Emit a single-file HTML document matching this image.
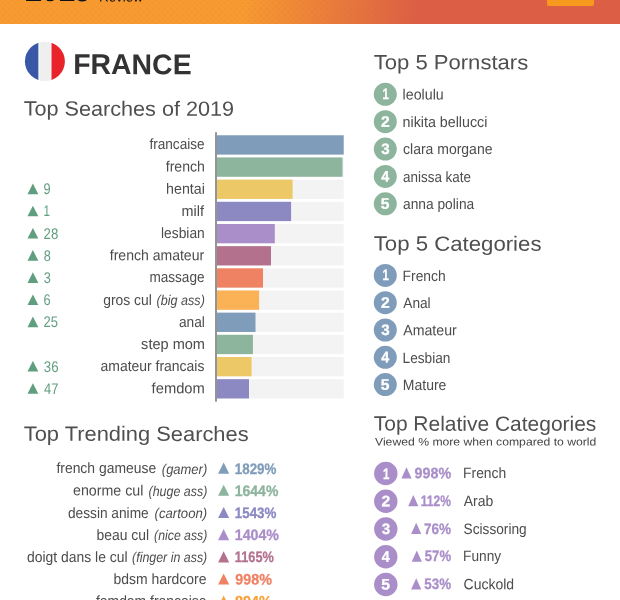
<!DOCTYPE html><html lang="fr"><head><meta charset="utf-8"><title>France - Top Searches of 2019</title><style>
*{margin:0;padding:0;box-sizing:border-box}
html,body{width:620px;height:600px;overflow:hidden;background:#fff}
body{position:relative;font-family:"Liberation Sans", sans-serif;}
.t{position:absolute;white-space:nowrap;line-height:1;transform-origin:0 50%}
.t i{font-style:italic}
.hdr{position:absolute;left:0;top:0;width:620px;height:23.7px;background:radial-gradient(circle,rgba(215,95,40,.22) 0,rgba(215,95,40,.22) .4px,rgba(215,95,40,0) 1px) 0 0/6px 6px,radial-gradient(circle,rgba(215,95,40,.22) 0,rgba(215,95,40,.22) .4px,rgba(215,95,40,0) 1px) 3px 3px/6px 6px,linear-gradient(97deg,#f79b31 0%,#f79b31 39%,#dc5f45 67%,#dc5f45 100%);overflow:hidden}
.btn{position:absolute;left:547.2px;top:-4px;width:47px;height:9.8px;background:#f7981f;border-radius:2px}
.chart{position:absolute;left:0;top:0;display:block}
</style></head><body>
<div class="hdr"><div class="btn"></div></div>
<div class="t" style="left:25px;top:-25px;font-size:31px;font-weight:700;color:#111;letter-spacing:-0.8px;transform:translateY(0.1px) rotate(0.03deg)">2019</div>
<div class="t" style="left:98.5px;top:-10px;font-size:13.4px;font-weight:400;color:#111;transform:translateY(0.6px) rotate(0.03deg);">Review</div>
<svg class="chart" width="620" height="600" viewBox="0 0 620 600"><defs><clipPath id="fc"><ellipse cx="44.9" cy="61.4" rx="20" ry="19.7"/></clipPath></defs><g clip-path="url(#fc)"><rect x="24" y="40" width="14.6" height="44" fill="#3857a6"/><rect x="38.6" y="40" width="12.9" height="44" fill="#fbfbfb"/><rect x="39.4" y="40" width="11.3" height="44" fill="#efefef"/><rect x="51.5" y="40" width="15" height="44" fill="#e8232a"/></g><rect x="216.9" y="135.30" width="126.8" height="19.3" fill="#f3f3f3"/><rect x="216.9" y="135.30" width="126.80" height="19.3" fill="#7f9cba"/><rect x="216.9" y="157.47" width="126.8" height="19.3" fill="#f3f3f3"/><rect x="216.9" y="157.47" width="125.60" height="19.3" fill="#8db49d"/><rect x="216.9" y="179.64" width="126.8" height="19.3" fill="#f3f3f3"/><rect x="216.9" y="179.64" width="75.70" height="19.3" fill="#ecc867"/><polygon points="32.90,183.60 38.30,194.20 27.50,194.20" fill="#5f9e7f"/><rect x="216.9" y="201.81" width="126.8" height="19.3" fill="#f3f3f3"/><rect x="216.9" y="201.81" width="74.20" height="19.3" fill="#8b88c2"/><polygon points="32.90,205.77 38.30,216.37 27.50,216.37" fill="#5f9e7f"/><rect x="216.9" y="223.98" width="126.8" height="19.3" fill="#f3f3f3"/><rect x="216.9" y="223.98" width="57.90" height="19.3" fill="#a98ec9"/><polygon points="32.90,227.94 38.30,238.54 27.50,238.54" fill="#5f9e7f"/><rect x="216.9" y="246.15" width="126.8" height="19.3" fill="#f3f3f3"/><rect x="216.9" y="246.15" width="54.10" height="19.3" fill="#b3718e"/><polygon points="32.90,250.11 38.30,260.71 27.50,260.71" fill="#5f9e7f"/><rect x="216.9" y="268.32" width="126.8" height="19.3" fill="#f3f3f3"/><rect x="216.9" y="268.32" width="46.10" height="19.3" fill="#f08264"/><polygon points="32.90,272.28 38.30,282.88 27.50,282.88" fill="#5f9e7f"/><rect x="216.9" y="290.49" width="126.8" height="19.3" fill="#f3f3f3"/><rect x="216.9" y="290.49" width="42.20" height="19.3" fill="#fbb155"/><polygon points="32.90,294.45 38.30,305.05 27.50,305.05" fill="#5f9e7f"/><rect x="216.9" y="312.66" width="126.8" height="19.3" fill="#f3f3f3"/><rect x="216.9" y="312.66" width="38.60" height="19.3" fill="#7f9cba"/><polygon points="32.90,316.62 38.30,327.22 27.50,327.22" fill="#5f9e7f"/><rect x="216.9" y="334.83" width="126.8" height="19.3" fill="#f3f3f3"/><rect x="216.9" y="334.83" width="36.00" height="19.3" fill="#8db49d"/><rect x="216.9" y="357.00" width="126.8" height="19.3" fill="#f3f3f3"/><rect x="216.9" y="357.00" width="34.70" height="19.3" fill="#ecc867"/><polygon points="32.90,360.96 38.30,371.56 27.50,371.56" fill="#5f9e7f"/><rect x="216.9" y="379.17" width="126.8" height="19.3" fill="#f3f3f3"/><rect x="216.9" y="379.17" width="32.10" height="19.3" fill="#8b88c2"/><polygon points="32.90,383.13 38.30,393.73 27.50,393.73" fill="#5f9e7f"/><polygon points="223.65,462.60 229.20,473.70 218.10,473.70" fill="#7f9cba"/><polygon points="223.65,484.77 229.20,495.87 218.10,495.87" fill="#8db49d"/><polygon points="223.65,506.94 229.20,518.04 218.10,518.04" fill="#8b88c2"/><polygon points="223.65,529.11 229.20,540.21 218.10,540.21" fill="#a98ec9"/><polygon points="223.65,551.28 229.20,562.38 218.10,562.38" fill="#b3718e"/><polygon points="223.65,573.45 229.20,584.55 218.10,584.55" fill="#f08264"/><polygon points="223.65,595.62 229.20,606.72 218.10,606.72" fill="#f9a23a"/><circle cx="385.30" cy="94.30" r="11.50" fill="#8db49d"/><circle cx="385.30" cy="121.67" r="11.50" fill="#8db49d"/><circle cx="385.30" cy="149.04" r="11.50" fill="#8db49d"/><circle cx="385.30" cy="176.41" r="11.50" fill="#8db49d"/><circle cx="385.30" cy="203.78" r="11.50" fill="#8db49d"/><circle cx="385.30" cy="275.40" r="11.50" fill="#7f9cba"/><circle cx="385.30" cy="302.70" r="11.50" fill="#7f9cba"/><circle cx="385.30" cy="330.00" r="11.50" fill="#7f9cba"/><circle cx="385.30" cy="357.30" r="11.50" fill="#7f9cba"/><circle cx="385.30" cy="384.60" r="11.50" fill="#7f9cba"/><circle cx="385.80" cy="473.50" r="11.70" fill="#a98ec9"/><polygon points="406.50,467.20 411.60,478.50 401.40,478.50" fill="#a98ec9"/><circle cx="385.80" cy="501.25" r="11.70" fill="#a98ec9"/><polygon points="413.30,494.95 418.40,506.25 408.20,506.25" fill="#a98ec9"/><circle cx="385.80" cy="529.00" r="11.70" fill="#a98ec9"/><polygon points="416.20,522.70 421.30,534.00 411.10,534.00" fill="#a98ec9"/><circle cx="385.80" cy="556.75" r="11.70" fill="#a98ec9"/><polygon points="416.80,550.45 421.90,561.75 411.70,561.75" fill="#a98ec9"/><circle cx="385.80" cy="584.50" r="11.70" fill="#a98ec9"/><polygon points="416.20,578.20 421.30,589.50 411.10,589.50" fill="#a98ec9"/><rect x="215.1" y="132.2" width="1.8" height="269.4" fill="#8a8a8a"/></svg>
<div class="t" id="t0" style="left:23px;top:98px;font-size:20.6px;color:#4f4f4f;transform:translate(0.73px,0.60px) rotate(0.03deg) scaleX(1.0497);">Top Searches of 2019</div>
<div class="t" id="t1" style="left:23px;top:423px;font-size:20.6px;color:#4f4f4f;transform:translate(0.73px,0.80px) rotate(0.03deg) scaleX(1.0619);">Top Trending Searches</div>
<div class="t" id="t2" style="left:373px;top:52px;font-size:20.6px;color:#4f4f4f;transform:translate(0.73px,0.30px) rotate(0.03deg) scaleX(1.0709);">Top 5 Pornstars</div>
<div class="t" id="t3" style="left:373px;top:233px;font-size:20.6px;color:#4f4f4f;transform:translate(0.73px,0.60px) rotate(0.03deg) scaleX(1.0775);">Top 5 Categories</div>
<div class="t" id="t4" style="left:373px;top:413px;font-size:20.6px;color:#4f4f4f;transform:translate(0.74px,0.60px) rotate(0.03deg) scaleX(1.0181);">Top Relative Categories</div>
<div class="t" id="t5" style="left:375px;top:436px;font-size:11px;color:#444;transform:translate(0.00px,0.40px) rotate(0.03deg) scaleX(1.1083);">Viewed % more when compared to world</div>
<div class="t" id="t6" style="left:73px;top:50px;font-size:28.6px;font-weight:700;color:#333;transform:translate(0.26px,0.10px) rotate(0.03deg) scaleX(0.9931);">FRANCE</div>
<div class="t" id="t7" style="left:149px;top:136px;font-size:15px;color:#4c4c4c;transform:translate(0.41px,0.40px) rotate(0.03deg) scaleX(0.9075);">francaise</div>
<div class="t" id="t8" style="left:165px;top:158px;font-size:15px;color:#4c4c4c;transform:translate(0.77px,0.57px) rotate(0.03deg) scaleX(0.9383);">french</div>
<div class="t" id="t9" style="left:166px;top:180px;font-size:15px;color:#4c4c4c;transform:translate(0.05px,0.74px) rotate(0.03deg) scaleX(0.9487);">hentai</div>
<div class="t" id="t10" style="left:43px;top:181px;font-size:15.4px;color:#5f9e7f;transform:translate(0.62px,0.20px) rotate(0.03deg) scaleX(0.8276);">9</div>
<div class="t" id="t11" style="left:181px;top:202px;font-size:15px;color:#4c4c4c;transform:translate(0.49px,0.91px) rotate(0.03deg) scaleX(0.9600);">milf</div>
<div class="t" id="t12" style="left:43px;top:203px;font-size:15.4px;color:#5f9e7f;transform:translate(0.55px,0.37px) rotate(0.03deg) scaleX(0.7500);">1</div>
<div class="t" id="t13" style="left:161px;top:225px;font-size:15px;color:#4c4c4c;transform:translate(0.03px,0.08px) rotate(0.03deg) scaleX(0.9202);">lesbian</div>
<div class="t" id="t14" style="left:43px;top:225px;font-size:15.4px;color:#5f9e7f;transform:translate(0.60px,0.54px) rotate(0.03deg) scaleX(0.8571);">28</div>
<div class="t" id="t15" style="left:109px;top:247px;font-size:15px;color:#4c4c4c;transform:translate(0.77px,0.25px) rotate(0.03deg) scaleX(0.9353);">french amateur</div>
<div class="t" id="t16" style="left:43px;top:247px;font-size:15.4px;color:#5f9e7f;transform:translate(0.87px,0.71px) rotate(0.03deg) scaleX(0.8276);">8</div>
<div class="t" id="t17" style="left:149px;top:269px;font-size:15px;color:#4c4c4c;transform:translate(0.40px,0.42px) rotate(0.03deg) scaleX(0.9055);">massage</div>
<div class="t" id="t18" style="left:43px;top:269px;font-size:15.4px;color:#5f9e7f;transform:translate(0.87px,0.88px) rotate(0.03deg) scaleX(0.8276);">3</div>
<div class="t" id="t19" style="left:103px;top:291px;font-size:15px;color:#4c4c4c;transform:translate(0.19px,0.59px) rotate(0.03deg) scaleX(0.9255);">gros cul</div>
<div class="t" id="t20" style="left:156px;top:293px;font-size:14px;color:#4c4c4c;transform:translate(0.56px,0.09px) rotate(0.03deg) scaleX(0.8995);"><i>(big ass)</i></div>
<div class="t" id="t21" style="left:43px;top:292px;font-size:15.4px;color:#5f9e7f;transform:translate(0.62px,0.05px) rotate(0.03deg) scaleX(0.8276);">6</div>
<div class="t" id="t22" style="left:178px;top:313px;font-size:15px;color:#4c4c4c;transform:translate(0.96px,0.76px) rotate(0.03deg) scaleX(0.9140);">anal</div>
<div class="t" id="t23" style="left:43px;top:314px;font-size:15.4px;color:#5f9e7f;transform:translate(0.61px,0.22px) rotate(0.03deg) scaleX(0.8416);">25</div>
<div class="t" id="t24" style="left:141px;top:335px;font-size:15px;color:#4c4c4c;transform:translate(0.11px,0.93px) rotate(0.03deg) scaleX(0.9698);">step mom</div>
<div class="t" id="t25" style="left:100px;top:358px;font-size:15px;color:#4c4c4c;transform:translate(0.53px,0.10px) rotate(0.03deg) scaleX(0.9300);">amateur francais</div>
<div class="t" id="t26" style="left:43px;top:358px;font-size:15.4px;color:#5f9e7f;transform:translate(0.85px,0.56px) rotate(0.03deg) scaleX(0.8571);">36</div>
<div class="t" id="t27" style="left:151px;top:380px;font-size:15px;color:#4c4c4c;transform:translate(0.60px,0.27px) rotate(0.03deg) scaleX(0.9821);">femdom</div>
<div class="t" id="t28" style="left:44px;top:380px;font-size:15.4px;color:#5f9e7f;transform:translate(0.07px,0.73px) rotate(0.03deg) scaleX(0.8438);">47</div>
<div class="t" id="t29" style="left:56px;top:460px;font-size:15px;color:#4c4c4c;transform:translate(0.40px,0.20px) rotate(0.03deg) scaleX(0.9271);">french gameuse</div>
<div class="t" id="t30" style="left:161px;top:461px;font-size:14px;color:#4c4c4c;transform:translate(0.81px,0.70px) rotate(0.03deg) scaleX(0.9263);"><i>(gamer)</i></div>
<div class="t" id="t31" style="left:234px;top:460px;font-size:15.2px;font-weight:700;-webkit-text-stroke:0.3px;color:#7f9cba;transform:translate(0.84px,0.56px) rotate(0.03deg) scaleX(0.8789);">1829%</div>
<div class="t" id="t32" style="left:73px;top:482px;font-size:15px;color:#4c4c4c;transform:translate(0.03px,0.37px) rotate(0.03deg) scaleX(0.9485);">enorme cul</div>
<div class="t" id="t33" style="left:148px;top:483px;font-size:14px;color:#4c4c4c;transform:translate(0.56px,0.87px) rotate(0.03deg) scaleX(0.8880);"><i>(huge ass)</i></div>
<div class="t" id="t34" style="left:234px;top:482px;font-size:15.2px;font-weight:700;-webkit-text-stroke:0.3px;color:#8db49d;transform:translate(0.81px,0.73px) rotate(0.03deg) scaleX(0.9200);">1644%</div>
<div class="t" id="t35" style="left:67px;top:504px;font-size:15px;color:#4c4c4c;transform:translate(0.91px,0.54px) rotate(0.03deg) scaleX(0.9144);">dessin anime</div>
<div class="t" id="t36" style="left:154px;top:506px;font-size:14px;color:#4c4c4c;transform:translate(0.58px,0.04px) rotate(0.03deg) scaleX(0.9388);"><i>(cartoon)</i></div>
<div class="t" id="t37" style="left:234px;top:504px;font-size:15.2px;font-weight:700;-webkit-text-stroke:0.3px;color:#8b88c2;transform:translate(0.84px,0.90px) rotate(0.03deg) scaleX(0.8789);">1543%</div>
<div class="t" id="t38" style="left:96px;top:526px;font-size:15px;color:#4c4c4c;transform:translate(0.58px,0.71px) rotate(0.03deg) scaleX(0.9270);">beau cul</div>
<div class="t" id="t39" style="left:154px;top:528px;font-size:14px;color:#4c4c4c;transform:translate(0.12px,0.21px) rotate(0.03deg) scaleX(0.8760);"><i>(nice ass)</i></div>
<div class="t" id="t40" style="left:234px;top:527px;font-size:15.2px;font-weight:700;-webkit-text-stroke:0.3px;color:#a98ec9;transform:translate(0.80px,0.07px) rotate(0.03deg) scaleX(0.9341);">1404%</div>
<div class="t" id="t41" style="left:27px;top:548px;font-size:15px;color:#4c4c4c;transform:translate(0.04px,0.88px) rotate(0.03deg) scaleX(0.9274);">doigt dans le cul</div>
<div class="t" id="t42" style="left:132px;top:550px;font-size:14px;color:#4c4c4c;transform:translate(0.06px,0.38px) rotate(0.03deg) scaleX(0.8862);"><i>(finger in ass)</i></div>
<div class="t" id="t43" style="left:234px;top:549px;font-size:15.2px;font-weight:700;-webkit-text-stroke:0.3px;color:#b3718e;transform:translate(0.87px,0.24px) rotate(0.03deg) scaleX(0.8374);">1165%</div>
<div class="t" id="t44" style="left:113px;top:571px;font-size:15px;color:#4c4c4c;transform:translate(0.42px,0.05px) rotate(0.03deg) scaleX(0.9293);">bdsm hardcore</div>
<div class="t" id="t45" style="left:235px;top:571px;font-size:15.2px;font-weight:700;-webkit-text-stroke:0.3px;color:#f08264;transform:translate(0.26px,0.41px) rotate(0.03deg) scaleX(0.9425);">998%</div>
<div class="t" id="t46" style="left:95px;top:593px;font-size:15px;color:#4c4c4c;transform:translate(0.96px,0.22px) rotate(0.03deg) scaleX(0.9269);">femdom francaise</div>
<div class="t" id="t47" style="left:235px;top:593px;font-size:15.2px;font-weight:700;-webkit-text-stroke:0.3px;color:#f9a23a;transform:translate(0.03px,0.58px) rotate(0.03deg) scaleX(0.9467);">894%</div>
<div class="t" id="t48" style="left:382px;top:86px;font-size:15.2px;font-weight:700;-webkit-text-stroke:0.3px;color:#fff;transform:translate(0.51px,0.36px) rotate(0.03deg) scaleX(0.7500);">1</div>
<div class="t" id="t49" style="left:402px;top:86px;font-size:15px;color:#4c4c4c;transform:translate(0.55px,0.60px) rotate(0.03deg) scaleX(0.9491);">leolulu</div>
<div class="t" id="t50" style="left:380px;top:113px;font-size:15.2px;font-weight:700;-webkit-text-stroke:0.3px;color:#fff;transform:translate(0.98px,0.73px) rotate(0.03deg) scaleX(1.0343);">2</div>
<div class="t" id="t51" style="left:402px;top:113px;font-size:15px;color:#4c4c4c;transform:translate(0.55px,0.97px) rotate(0.03deg) scaleX(0.9507);">nikita bellucci</div>
<div class="t" id="t52" style="left:381px;top:141px;font-size:15.2px;font-weight:700;-webkit-text-stroke:0.3px;color:#fff;transform:translate(0.25px,0.10px) rotate(0.03deg) scaleX(1.0000);">3</div>
<div class="t" id="t53" style="left:403px;top:141px;font-size:15px;color:#4c4c4c;transform:translate(0.03px,0.34px) rotate(0.03deg) scaleX(0.9325);">clara morgane</div>
<div class="t" id="t54" style="left:381px;top:168px;font-size:15.2px;font-weight:700;-webkit-text-stroke:0.3px;color:#fff;transform:translate(0.25px,0.47px) rotate(0.03deg) scaleX(0.9412);">4</div>
<div class="t" id="t55" style="left:403px;top:168px;font-size:15px;color:#4c4c4c;transform:translate(0.05px,0.71px) rotate(0.03deg) scaleX(0.8950);">anissa kate</div>
<div class="t" id="t56" style="left:380px;top:195px;font-size:15.2px;font-weight:700;-webkit-text-stroke:0.3px;color:#fff;transform:translate(0.86px,0.84px) rotate(0.03deg) scaleX(1.0323);">5</div>
<div class="t" id="t57" style="left:403px;top:196px;font-size:15px;color:#4c4c4c;transform:translate(0.04px,0.08px) rotate(0.03deg) scaleX(0.9172);">anna polina</div>
<div class="t" id="t58" style="left:382px;top:267px;font-size:15.2px;font-weight:700;-webkit-text-stroke:0.3px;color:#fff;transform:translate(0.51px,0.46px) rotate(0.03deg) scaleX(0.7500);">1</div>
<div class="t" id="t59" style="left:402px;top:267px;font-size:15px;color:#4c4c4c;transform:translate(0.59px,0.70px) rotate(0.03deg) scaleX(0.9225);">French</div>
<div class="t" id="t60" style="left:380px;top:294px;font-size:15.2px;font-weight:700;-webkit-text-stroke:0.3px;color:#fff;transform:translate(0.98px,0.76px) rotate(0.03deg) scaleX(1.0343);">2</div>
<div class="t" id="t61" style="left:403px;top:295px;font-size:15px;color:#4c4c4c;transform:translate(0.26px,0.00px) rotate(0.03deg) scaleX(0.9121);">Anal</div>
<div class="t" id="t62" style="left:381px;top:322px;font-size:15.2px;font-weight:700;-webkit-text-stroke:0.3px;color:#fff;transform:translate(0.25px,0.06px) rotate(0.03deg) scaleX(1.0000);">3</div>
<div class="t" id="t63" style="left:403px;top:322px;font-size:15px;color:#4c4c4c;transform:translate(0.26px,0.30px) rotate(0.03deg) scaleX(0.9440);">Amateur</div>
<div class="t" id="t64" style="left:381px;top:349px;font-size:15.2px;font-weight:700;-webkit-text-stroke:0.3px;color:#fff;transform:translate(0.25px,0.36px) rotate(0.03deg) scaleX(0.9412);">4</div>
<div class="t" id="t65" style="left:402px;top:349px;font-size:15px;color:#4c4c4c;transform:translate(0.61px,0.60px) rotate(0.03deg) scaleX(0.9099);">Lesbian</div>
<div class="t" id="t66" style="left:380px;top:376px;font-size:15.2px;font-weight:700;-webkit-text-stroke:0.3px;color:#fff;transform:translate(0.86px,0.66px) rotate(0.03deg) scaleX(1.0323);">5</div>
<div class="t" id="t67" style="left:402px;top:376px;font-size:15px;color:#4c4c4c;transform:translate(0.83px,0.90px) rotate(0.03deg) scaleX(0.9330);">Mature</div>
<div class="t" id="t68" style="left:383px;top:465px;font-size:15.2px;font-weight:700;-webkit-text-stroke:0.3px;color:#fff;transform:translate(0.01px,0.56px) rotate(0.03deg) scaleX(0.7500);">1</div>
<div class="t" id="t69" style="left:414px;top:465px;font-size:15.2px;font-weight:700;-webkit-text-stroke:0.3px;color:#a98ec9;transform:translate(0.53px,0.16px) rotate(0.03deg) scaleX(0.9412);">998%</div>
<div class="t" id="t70" style="left:463px;top:465px;font-size:15px;color:#4c4c4c;transform:translate(0.09px,0.20px) rotate(0.03deg) scaleX(0.9236);">French</div>
<div class="t" id="t71" style="left:381px;top:493px;font-size:15.2px;font-weight:700;-webkit-text-stroke:0.3px;color:#fff;transform:translate(0.48px,0.31px) rotate(0.03deg) scaleX(1.0343);">2</div>
<div class="t" id="t72" style="left:420px;top:492px;font-size:15.2px;font-weight:700;-webkit-text-stroke:0.3px;color:#a98ec9;transform:translate(0.70px,0.91px) rotate(0.03deg) scaleX(0.7946);">112%</div>
<div class="t" id="t73" style="left:463px;top:492px;font-size:15px;color:#4c4c4c;transform:translate(0.75px,0.95px) rotate(0.03deg) scaleX(0.9291);">Arab</div>
<div class="t" id="t74" style="left:381px;top:521px;font-size:15.2px;font-weight:700;-webkit-text-stroke:0.3px;color:#fff;transform:translate(0.75px,0.06px) rotate(0.03deg) scaleX(1.0000);">3</div>
<div class="t" id="t75" style="left:423px;top:520px;font-size:15.2px;font-weight:700;-webkit-text-stroke:0.3px;color:#a98ec9;transform:translate(0.94px,0.66px) rotate(0.03deg) scaleX(0.8891);">76%</div>
<div class="t" id="t76" style="left:463px;top:520px;font-size:15px;color:#4c4c4c;transform:translate(0.56px,0.70px) rotate(0.03deg) scaleX(0.9119);">Scissoring</div>
<div class="t" id="t77" style="left:381px;top:548px;font-size:15.2px;font-weight:700;-webkit-text-stroke:0.3px;color:#fff;transform:translate(0.75px,0.81px) rotate(0.03deg) scaleX(0.9412);">4</div>
<div class="t" id="t78" style="left:424px;top:548px;font-size:15.2px;font-weight:700;-webkit-text-stroke:0.3px;color:#a98ec9;transform:translate(0.83px,0.41px) rotate(0.03deg) scaleX(0.8633);">57%</div>
<div class="t" id="t79" style="left:463px;top:548px;font-size:15px;color:#4c4c4c;transform:translate(0.10px,0.45px) rotate(0.03deg) scaleX(0.9124);">Funny</div>
<div class="t" id="t80" style="left:381px;top:576px;font-size:15.2px;font-weight:700;-webkit-text-stroke:0.3px;color:#fff;transform:translate(0.36px,0.56px) rotate(0.03deg) scaleX(1.0323);">5</div>
<div class="t" id="t81" style="left:424px;top:576px;font-size:15.2px;font-weight:700;-webkit-text-stroke:0.3px;color:#a98ec9;transform:translate(0.33px,0.16px) rotate(0.03deg) scaleX(0.8800);">53%</div>
<div class="t" id="t82" style="left:463px;top:576px;font-size:15px;color:#4c4c4c;transform:translate(0.54px,0.20px) rotate(0.03deg) scaleX(0.9343);">Cuckold</div>
</body></html>
